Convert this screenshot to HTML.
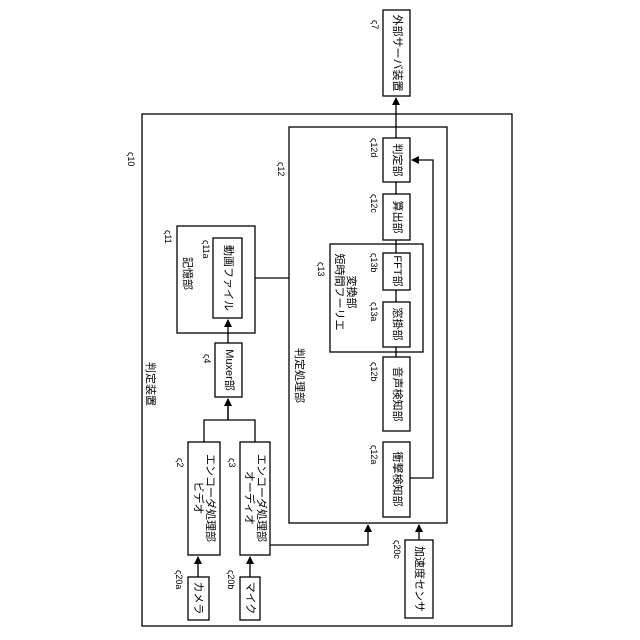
<!DOCTYPE html>
<html><head><meta charset="utf-8"><style>
html,body{margin:0;padding:0;background:#fff}
svg{display:block}
text{font-family:"Liberation Sans","Noto Sans CJK JP",sans-serif;font-size:11px;fill:#000}
.s{font-size:9px}
</style></head><body>
<svg width="640" height="640" viewBox="0 0 640 640" xmlns="http://www.w3.org/2000/svg">
<defs><marker id="a" markerWidth="8" markerHeight="8" refX="7" refY="4" orient="auto" markerUnits="userSpaceOnUse"><path d="M0,0 L8,4 L0,8 z" fill="#000"/></marker></defs>
<g fill="none" stroke="#000" stroke-width="1.3">
<rect x="142" y="114" width="370" height="512"/>
<rect x="177" y="226" width="78" height="107"/>
<rect x="213" y="238" width="29" height="80"/>
<rect x="215" y="343" width="27" height="54"/>
<rect x="188" y="442" width="32" height="113"/>
<rect x="240" y="442" width="30" height="113"/>
<rect x="188" y="577" width="21" height="43"/>
<rect x="240" y="577" width="20" height="43"/>
<rect x="289" y="127" width="158" height="396"/>
<rect x="330" y="244" width="93" height="108"/>
<rect x="383" y="138" width="27" height="44"/>
<rect x="383" y="194" width="27" height="46"/>
<rect x="383" y="253" width="27" height="37"/>
<rect x="383" y="302" width="27" height="45"/>
<rect x="383" y="357" width="27" height="74"/>
<rect x="383" y="442" width="27" height="75"/>
<rect x="383" y="10" width="27" height="86"/>
<rect x="405" y="540" width="28" height="78"/>
<path d="M198,577 V557" marker-end="url(#a)"/>
<path d="M250,577 V557" marker-end="url(#a)"/>
<path d="M204,442 V420 H255 V442 M228,420 V399" />
<path d="M228,420 V399" marker-end="url(#a)"/>
<path d="M228,343 V320" marker-end="url(#a)"/>
<path d="M255,278 H289"/>
<path d="M270,545 H368 V525" marker-end="url(#a)"/>
<path d="M419,540 V525" marker-end="url(#a)"/>
<path d="M396,182 V194 M396,240 V253 M396,290 V302 M396,347 V357"/>
<path d="M396,138 V98" marker-end="url(#a)"/>
<path d="M410,478 H433 V160 H412" marker-end="url(#a)"/>
</g>
<g>
<text transform="translate(397,53) rotate(90)" text-anchor="middle" dominant-baseline="central">外部サーバ装置</text>
<text transform="translate(397,160) rotate(90)" text-anchor="middle" dominant-baseline="central">判定部</text>
<text transform="translate(397,217) rotate(90)" text-anchor="middle" dominant-baseline="central">算出部</text>
<text transform="translate(397,271) rotate(90)" text-anchor="middle" dominant-baseline="central">FFT部</text>
<text transform="translate(397,324) rotate(90)" text-anchor="middle" dominant-baseline="central">窓掛部</text>
<text transform="translate(397,394) rotate(90)" text-anchor="middle" dominant-baseline="central">音声検知部</text>
<text transform="translate(397,479) rotate(90)" text-anchor="middle" dominant-baseline="central">衝撃検知部</text>
<text transform="translate(419,579) rotate(90)" text-anchor="middle" dominant-baseline="central">加速度センサ</text>
<text transform="translate(339,292) rotate(90)" text-anchor="middle" dominant-baseline="central">短時間フーリエ</text>
<text transform="translate(351,292) rotate(90)" text-anchor="middle" dominant-baseline="central">変換部</text>
<text transform="translate(299,348) rotate(90)" text-anchor="start" dominant-baseline="central">判定処理部</text>
<text transform="translate(150,362) rotate(90)" text-anchor="start" dominant-baseline="central">判定装置</text>
<text transform="translate(187,257) rotate(90)" text-anchor="start" dominant-baseline="central">記憶部</text>
<text transform="translate(228,278) rotate(90)" text-anchor="middle" dominant-baseline="central">動画ファイル</text>
<text transform="translate(229,370) rotate(90)" text-anchor="middle" dominant-baseline="central">Muxer部</text>
<text transform="translate(198,498) rotate(90)" text-anchor="middle" dominant-baseline="central">ビデオ</text>
<text transform="translate(210,498) rotate(90)" text-anchor="middle" dominant-baseline="central">エンコーダ処理部</text>
<text transform="translate(249,498) rotate(90)" text-anchor="middle" dominant-baseline="central">オーディオ</text>
<text transform="translate(261,498) rotate(90)" text-anchor="middle" dominant-baseline="central">エンコーダ処理部</text>
<text transform="translate(198,598) rotate(90)" text-anchor="middle" dominant-baseline="central">カメラ</text>
<text transform="translate(250,598) rotate(90)" text-anchor="middle" dominant-baseline="central">マイク</text>
</g>
<g class="s">
<text class="s" transform="translate(372,20) rotate(90)">ς7</text>
<text class="s" transform="translate(371,138) rotate(90)">ς12d</text>
<text class="s" transform="translate(371,194) rotate(90)">ς12c</text>
<text class="s" transform="translate(371,253) rotate(90)">ς13b</text>
<text class="s" transform="translate(371,302) rotate(90)">ς13a</text>
<text class="s" transform="translate(371,362) rotate(90)">ς12b</text>
<text class="s" transform="translate(371,445) rotate(90)">ς12a</text>
<text class="s" transform="translate(394,540) rotate(90)">ς20c</text>
<text class="s" transform="translate(318,262) rotate(90)">ς13</text>
<text class="s" transform="translate(278,162) rotate(90)">ς12</text>
<text class="s" transform="translate(128,152) rotate(90)">ς10</text>
<text class="s" transform="translate(165,230) rotate(90)">ς11</text>
<text class="s" transform="translate(203,240) rotate(90)">ς11a</text>
<text class="s" transform="translate(204,354) rotate(90)">ς4</text>
<text class="s" transform="translate(177,458) rotate(90)">ς2</text>
<text class="s" transform="translate(229,458) rotate(90)">ς3</text>
<text class="s" transform="translate(176,570) rotate(90)">ς20a</text>
<text class="s" transform="translate(228,570) rotate(90)">ς20b</text>
</g>
</svg>
</body></html>
